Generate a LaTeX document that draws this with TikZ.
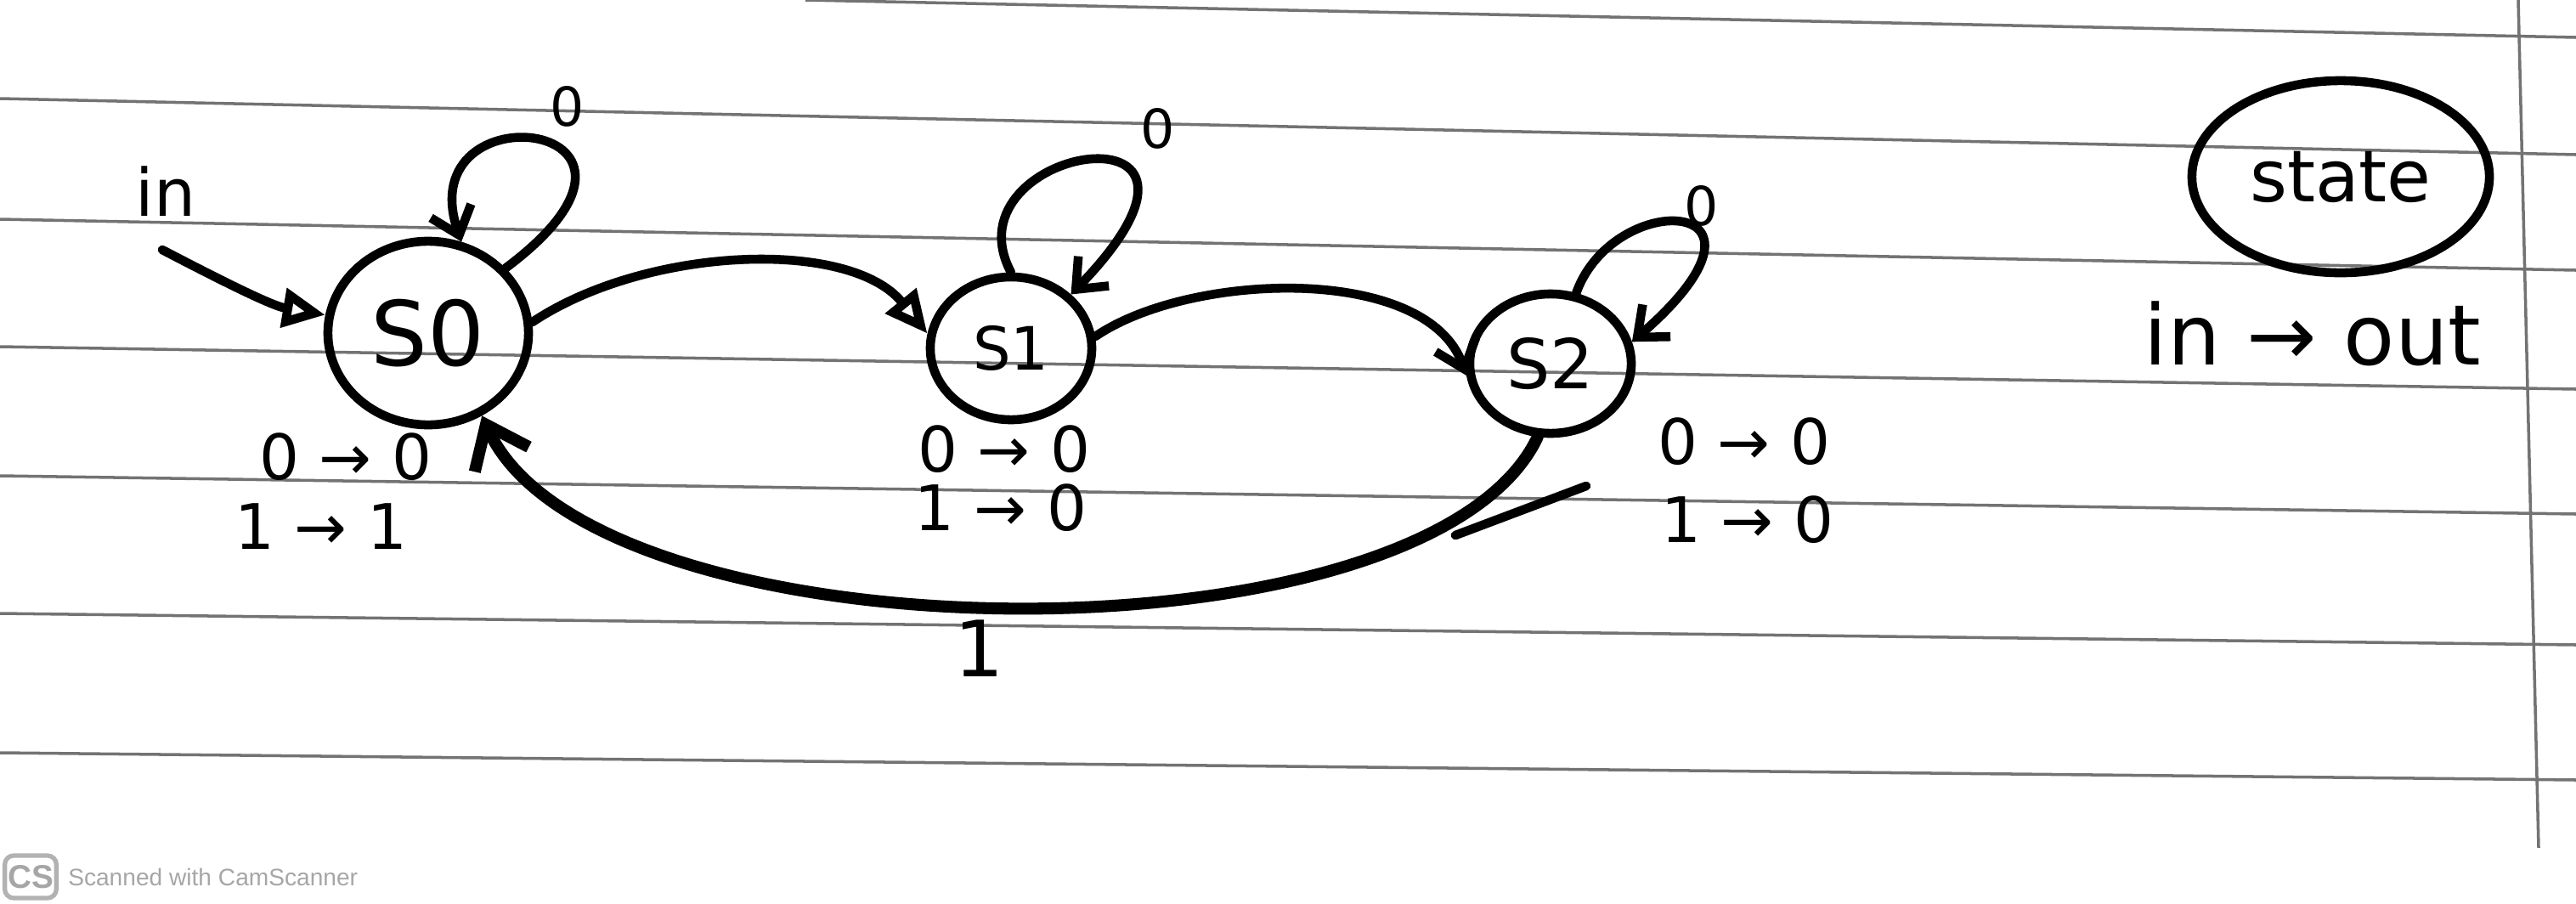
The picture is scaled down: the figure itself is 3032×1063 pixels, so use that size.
\documentclass[tikz,border=0pt]{standalone}
\usepackage{fontspec}
\setmainfont{DejaVu Sans}
\newfontfamily\wmfont{Liberation Sans}
\usetikzlibrary{arrows.meta,shapes.geometric,positioning}
\tikzset{
  pen/.style={line width=3pt, line cap=round, line join=round},
  ruled/.style={black!55, line width=1pt},
  stnode/.style={ellipse, draw, pen, inner sep=0pt},
  io/.style={font=\fontsize{21}{21}\selectfont, inner sep=0pt},
  vee/.style={-{Straight Barb[length=0.3cm, width=0.5cm]}},
  tri/.style={-{Triangle[open, length=0.5cm, width=0.45cm]}}
}
\begin{document}
\begin{tikzpicture}[x=0.01cm, y=-0.01cm]
  \useasboundingbox (0,0) rectangle (3032,1063);
  \clip (0,0) rectangle (3032,1063);
  % paper
  \draw[ruled] (948,0) -- (3032,44);
  \draw[ruled] (0,116) -- (3032,182);
  \draw[ruled] (0,258) -- (3032,318);
  \draw[ruled] (0,408) -- (3032,458);
  \draw[ruled] (0,560) -- (3032,605);
  \draw[ruled] (0,722) -- (3032,759);
  \draw[ruled] (0,886) -- (3032,918);
  \draw[ruled] (2964,0) -- (2988,998);
  % states
  \node[stnode, minimum width=2.36cm, minimum height=2.16cm, font=\fontsize{30}{30}\selectfont] (S0) at (504,392) {S0};
  \node[stnode, minimum width=1.9cm, minimum height=1.68cm, font=\fontsize{20}{20}\selectfont] (S1) at (1190,410) {S1};
  \node[stnode, minimum width=1.9cm, minimum height=1.64cm, font=\fontsize{23}{23}\selectfont] (S2) at (1825,428) {S2};
  \node[stnode, minimum width=3.5cm, minimum height=2.26cm, font=\fontsize{24}{24}\selectfont] (key) at (2755,208) {state};
  \node[font=\fontsize{28}{28}\selectfont, inner sep=0pt] (keyio) at (2722,393) {in → out};
  % transitions
  \coordinate (start) at (191,294);
  \node[font=\fontsize{22}{22}\selectfont, inner sep=0pt] (inlbl) at (195,225) {in};
  \draw[pen, tri] (start) .. controls (260,330) and (320,360) .. (S0.170);
  \draw[pen, vee] (S0.40) .. controls (830,140) and (480,100) .. (S0.70);
  \draw[pen, tri] (S0.6) .. controls (760,290) and (1000,280) .. (S1.170);
  \draw[pen, vee] (S1.90) .. controls (1110,170) and (1490,110) .. (S1.42);
  \draw[pen, vee] (S1.8) .. controls (1400,320) and (1680,310) .. (S2.188);
  \draw[pen, vee] (S2.70) .. controls (1900,220) and (2120,230) .. (S2.15);
  \draw[pen, line width=4pt, -{Straight Barb[length=0.45cm, width=0.7cm]}] (S2.260) .. controls (1680,790) and (700,780) .. (S0.-57);
  \draw[pen] (1867,572) -- (1713,630);
  \node[font=\fontsize{18}{18}\selectfont, inner sep=0pt] (l0) at (668,125) {0};
  \node[font=\fontsize{18}{18}\selectfont, inner sep=0pt] (l1) at (1363,151) {0};
  \node[font=\fontsize{18}{18}\selectfont, inner sep=0pt] (l2) at (2003,242) {0};
  \node[font=\fontsize{26}{26}\selectfont, inner sep=0pt] (lback) at (1153,763) {1};
  % outputs
  \node[io] (S0a) at (407,538) {0 → 0};
  \node[io] (S0b) at (378,620) {1 → 1};
  \node[io] (S1a) at (1182,529) {0 → 0};
  \node[io] (S1b) at (1178,598) {1 → 0};
  \node[io] (S2a) at (2053,520) {0 → 0};
  \node[io] (S2b) at (2057,612) {1 → 0};
  % scanner mark
  \node[draw=black!30, line width=1.5pt, rounded corners=3pt, text=black!35, font=\wmfont\bfseries\fontsize{11}{11}\selectfont, minimum size=0.5cm, inner sep=1pt] (cs) at (36,1032) {CS};
  \node[right=3pt of cs, text=black!35, font=\wmfont\fontsize{8}{8}\selectfont, inner sep=0pt] (scan) {Scanned with CamScanner};
\end{tikzpicture}
\end{document}
